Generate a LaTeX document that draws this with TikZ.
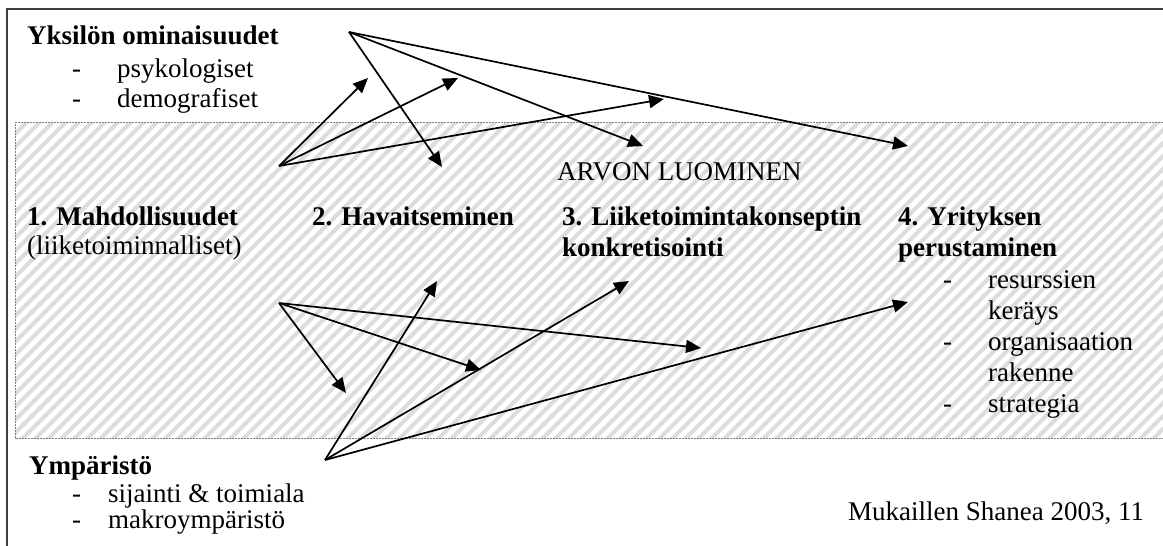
\documentclass[tikz,border=0pt]{standalone}
\usepackage{fontspec}
\setmainfont{Liberation Serif}
\usetikzlibrary{arrows.meta}
\definecolor{framecol}{HTML}{404040}
\definecolor{hatchcol}{HTML}{DCDCDC}
\tikzset{
  txt/.style={anchor=base west, inner sep=0pt, font=\fontsize{27}{31}\selectfont},
  btxt/.style={txt, font=\fontsize{27}{31}\selectfont\bfseries},
  link/.style={line width=1.7pt, -{Triangle[length=15pt,width=13pt]}},
}
\begin{document}
\begin{tikzpicture}[x=1pt,y=-1pt]
\useasboundingbox (0,0) rectangle (1163,546);
% hatched band
\begin{scope}
  \clip (15,122) rectangle (1163,438);
  \foreach \i in {-330,-317,...,1170} {
    \draw[hatchcol, line width=4.2pt] (\i,440) -- (\i+320,120);
  }
\end{scope}
\draw[gray, line width=0.9pt, dash pattern=on 2pt off 1pt] (15,122) -- (1170,122);
\draw[gray, line width=0.9pt, dash pattern=on 2pt off 1pt] (1170,438) -- (15,438) -- (15,122);
% outer frame
\draw[framecol, line width=2pt] (7,546) -- (7,9) -- (1163,9);
% texts
\node[btxt] (yks) at (27,44) {Yksilön ominaisuudet};
\node[txt] (d1) at (72,77) {-};
\node[txt] (psy) at (117,77) {psykologiset};
\node[txt] (d2) at (72,107) {-};
\node[txt] (dem) at (117,107) {demografiset};
\node[txt] (arvo) at (557,180) {ARVON LUOMINEN};
\node[btxt] (s1) at (27,225) {1. Mahdollisuudet};
\node[txt] (s1b) at (27,254) {(liiketoiminnalliset)};
\node[btxt] (s2) at (312,225) {2. Havaitseminen};
\node[btxt] (s3) at (562,225) {3. Liiketoimintakonseptin};
\node[btxt] (s3b) at (562,256) {konkretisointi};
\node[btxt] (s4) at (898,225) {4. Yrityksen};
\node[btxt] (s4b) at (898,256) {perustaminen};
\node[txt] (d3) at (943,288) {-};
\node[txt] (r1) at (988,288) {resurssien};
\node[txt] (r1b) at (988,319) {keräys};
\node[txt] (d4) at (943,350) {-};
\node[txt] (r2) at (988,350) {organisaation};
\node[txt] (r2b) at (988,381) {rakenne};
\node[txt] (d5) at (943,412) {-};
\node[txt] (r3) at (988,412) {strategia};
\node[btxt] (ymp) at (29,474) {Ympäristö};
\node[txt] (d6) at (72,502) {-};
\node[txt] (sij) at (108,502) {sijainti \& toimiala};
\node[txt] (d7) at (72,528) {-};
\node[txt] (mak) at (108,528) {makroympäristö};
\node[txt] (ref) at (848,520) {Mukaillen Shanea 2003, 11};
% arrow end points
\coordinate (A) at (349,32);
\coordinate (B) at (279,166);
\coordinate (C) at (279,303);
\coordinate (D) at (325,460);
\coordinate (a1) at (442,167);
\coordinate (a2) at (643,146);
\coordinate (a3) at (908,146);
\coordinate (b1) at (368,78);
\coordinate (b2) at (458,78);
\coordinate (b3) at (664,99);
\coordinate (c1) at (346,393);
\coordinate (c2) at (481,370);
\coordinate (c3) at (701,348);
\coordinate (e1) at (437,281);
\coordinate (e2) at (629,281);
\coordinate (e3) at (908,302);
\foreach \s/\t in {A/a1,A/a2,A/a3,B/b1,B/b2,B/b3,C/c1,C/c2,C/c3,D/e1,D/e2,D/e3}
  \draw[link] (\s) -- (\t);
\end{tikzpicture}
\end{document}
